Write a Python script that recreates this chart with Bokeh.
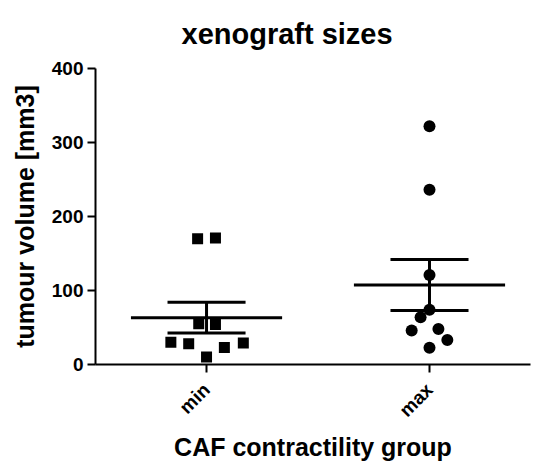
import math
import numpy as np
from bokeh.plotting import figure
from bokeh.models import Range1d, FixedTicker, ColumnDataSource
from bokeh.embed import file_html
from bokeh.resources import INLINE

# ---- data ----
groups = ["min", "max"]
group_pos = [1, 2]
min_values = [170, 171, 55, 54, 30, 28, 23, 29, 10]
min_jitter = [-0.04, 0.04, -0.035, 0.04, -0.16, -0.08, 0.08, 0.165, 0.0]
max_values = [322, 236, 121, 74, 64, 46, 48, 33, 22.5]
max_jitter = [0.0, 0.0, 0.0, 0.0, -0.04, -0.08, 0.04, 0.08, 0.0]
y_ticks = [0, 100, 200, 300, 400]
title_text = "xenograft sizes"
x_label_text = "CAF contractility group"
y_label_text = "tumour volume [mm3]"

FONT = "Liberation Sans"

p = figure(width=534, height=464, output_backend="svg", toolbar_location=None,
           x_range=Range1d(0.502, 2.453), y_range=Range1d(0, 400),
           min_border_left=95, min_border_right=4, min_border_top=68,
           min_border_bottom=100,
           title=title_text,
           x_axis_label=x_label_text,
           y_axis_label=y_label_text)

p.title.text_font = FONT
p.title.text_font_size = "29px"
p.title.text_font_style = "bold"
p.title.text_color = "black"
p.title.align = "left"
p.title.offset = 86
p.title.vertical_align = "top"
p.title.standoff = 33

p.xgrid.visible = False
p.ygrid.visible = False
p.outline_line_color = None
p.background_fill_color = "white"
p.border_fill_color = "white"

for ax in (p.xaxis[0], p.yaxis[0]):
    ax.axis_line_width = 2
    ax.axis_line_color = "black"
    ax.major_tick_line_width = 2
    ax.major_tick_line_color = "black"
    ax.major_tick_out = 8
    ax.major_tick_in = 0
    ax.minor_tick_out = 0
    ax.minor_tick_in = 0
    ax.major_label_text_font = FONT
    ax.major_label_text_font_style = "bold"
    ax.major_label_text_font_size = "19px"
    ax.major_label_text_color = "black"
    ax.axis_label_text_font = FONT
    ax.axis_label_text_font_style = "bold"
    ax.axis_label_text_color = "black"

p.yaxis[0].ticker = FixedTicker(ticks=y_ticks)
p.yaxis[0].axis_label_text_font_size = "25px"
p.yaxis[0].major_label_standoff = 4
p.yaxis[0].axis_label_standoff = 10

p.xaxis[0].ticker = FixedTicker(ticks=group_pos)
p.xaxis[0].major_label_overrides = {pos: name for pos, name in zip(group_pos, groups)}
p.xaxis[0].major_label_orientation = math.pi / 4
p.xaxis[0].axis_label_text_font_size = "25px"
p.xaxis[0].major_label_standoff = 14
p.xaxis[0].axis_label_standoff = 2

MEAN_HALF = 0.339
CAP_HALF = 0.175

series = [(min_values, min_jitter, "square", 11), (max_values, max_jitter, "circle", 12)]
for pos, (vals, jit, marker, size) in zip(group_pos, series):
    arr = np.array(vals, dtype=float)
    mean = arr.mean()
    sem = arr.std(ddof=1) / math.sqrt(len(arr))
    stats = ColumnDataSource(dict(
        x0=[pos - MEAN_HALF, pos - CAP_HALF, pos - CAP_HALF, pos],
        x1=[pos + MEAN_HALF, pos + CAP_HALF, pos + CAP_HALF, pos],
        y0=[mean, mean + sem, mean - sem, mean - sem],
        y1=[mean, mean + sem, mean - sem, mean + sem],
    ))
    p.segment(x0="x0", x1="x1", y0="y0", y1="y1", source=stats,
              line_color="black", line_width=3)
    pts = ColumnDataSource(dict(x=[pos + j for j in jit], y=vals))
    p.scatter(x="x", y="y", source=pts, marker=marker, size=size,
              fill_color="black", line_color="black", line_width=0)

open("out.html", "w").write(file_html(p, INLINE))
